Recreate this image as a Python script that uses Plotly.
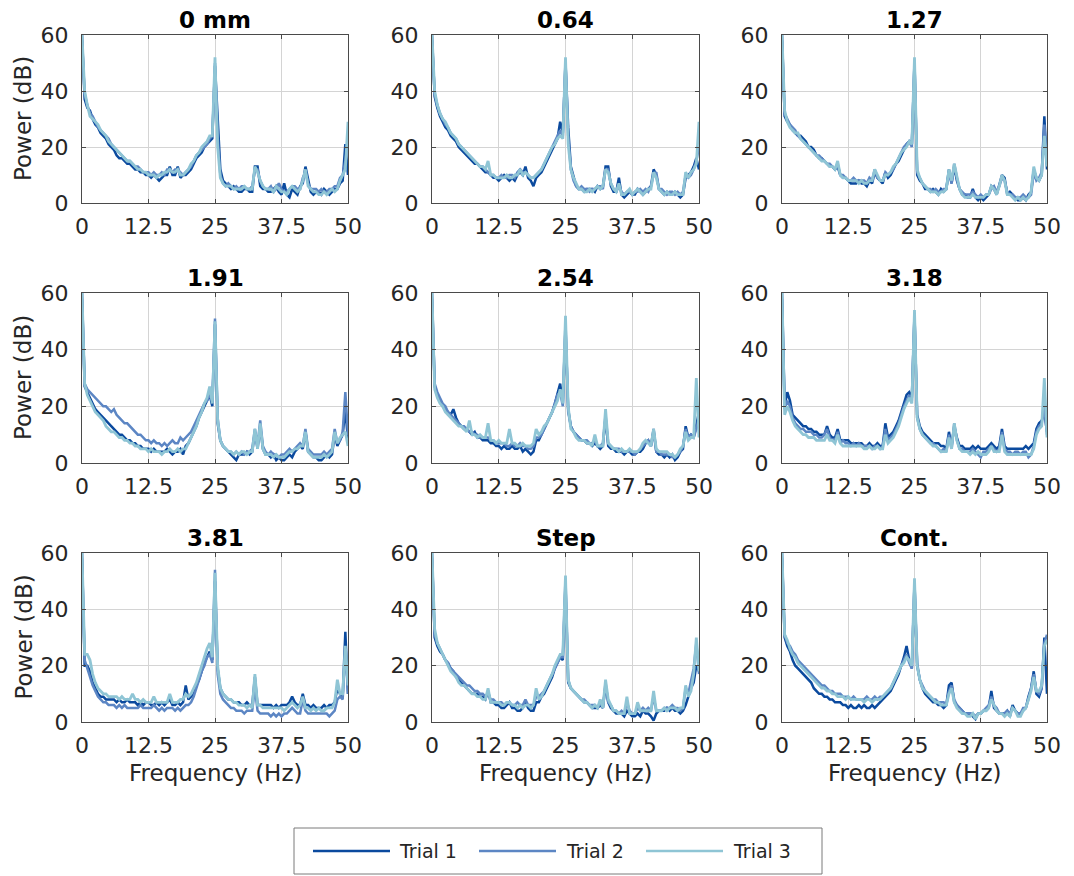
import plotly.graph_objects as go

# Frequency bins (Hz), 0.5 Hz resolution from 0 to 50 Hz
freq = [i / 2 for i in range(101)]

panel_titles = ["0 mm", "0.64", "1.27", "1.91", "2.54", "3.18", "3.81", "Step", "Cont."]
trial_names = ["Trial 1", "Trial 2", "Trial 3"]
x_tick_vals = [0, 12.5, 25, 37.5, 50]
x_tick_text = ["0", "12.5", "25", "37.5", "50"]
y_tick_vals = [0, 20, 40, 60]

# ---------------- 0 mm ----------------
p_0mm_t1 = [60, 37, 34, 33, 30, 28, 27, 25, 24, 23,
            21, 20, 19, 17, 16, 16, 15, 14, 14, 13,
            12, 12, 11, 11, 10, 10, 9, 10, 9, 8,
            9, 10, 10, 13, 10, 10, 13, 9, 10, 10,
            11, 12, 14, 16, 17, 18, 20, 21, 22, 23,
            49, 30, 12, 8, 7, 6, 5, 6, 5, 4,
            4, 5, 5, 4, 4, 13, 13, 6, 5, 5,
            4, 4, 5, 6, 4, 3, 7, 3, 2, 5,
            4, 3, 6, 7, 13, 8, 4, 3, 4, 4,
            3, 5, 4, 3, 4, 5, 5, 7, 8, 21, 10]
p_0mm_t2 = [58, 39, 35, 32, 31, 29, 27, 26, 25, 24,
            23, 21, 20, 19, 18, 17, 16, 15, 15, 14,
            13, 13, 12, 11, 11, 11, 10, 11, 10, 10,
            11, 10, 12, 12, 11, 12, 12, 11, 10, 11,
            12, 13, 15, 17, 18, 19, 20, 21, 23, 24,
            50, 24, 10, 7, 6, 7, 6, 5, 6, 5,
            6, 6, 5, 5, 6, 12, 12, 8, 6, 5,
            5, 6, 4, 5, 7, 5, 4, 4, 5, 6,
            6, 5, 5, 9, 11, 7, 5, 5, 5, 4,
            5, 4, 4, 5, 5, 6, 6, 9, 10, 15, 22]
p_0mm_t3 = [60, 40, 35, 31, 30, 29, 28, 26, 25, 24,
            22, 21, 20, 19, 18, 17, 16, 15, 15, 14,
            13, 12, 12, 11, 11, 10, 10, 10, 9, 10,
            10, 11, 11, 12, 11, 11, 12, 10, 10, 11,
            12, 14, 15, 17, 18, 20, 21, 22, 24, 24,
            52, 20, 9, 7, 6, 6, 6, 5, 5, 5,
            5, 6, 5, 5, 5, 13, 11, 8, 6, 5,
            5, 5, 4, 6, 5, 4, 4, 3, 5, 6,
            5, 4, 5, 8, 12, 6, 5, 4, 4, 3,
            3, 4, 3, 4, 5, 4, 5, 8, 10, 12, 29]

# ---------------- 0.64 ----------------
p_064_t1 = [60, 38, 34, 31, 29, 27, 26, 24, 23, 22,
            20, 19, 18, 17, 16, 15, 14, 14, 13, 12,
            11, 11, 10, 9, 9, 8, 9, 10, 9, 8,
            9, 8, 10, 11, 10, 13, 9, 8, 6, 9,
            10, 11, 13, 15, 17, 19, 21, 23, 29, 25,
            50, 27, 13, 9, 6, 5, 5, 4, 5, 5,
            5, 4, 6, 5, 6, 13, 13, 6, 4, 4,
            9, 3, 2, 3, 4, 3, 3, 5, 4, 3,
            4, 5, 6, 12, 10, 5, 4, 3, 4, 3,
            3, 4, 3, 2, 3, 9, 10, 11, 13, 16, 12]
p_064_t2 = [58, 39, 35, 32, 30, 28, 27, 25, 24, 23,
            21, 20, 19, 18, 17, 16, 15, 14, 13, 13,
            12, 11, 10, 10, 9, 9, 10, 9, 9, 10,
            10, 9, 11, 12, 11, 11, 10, 9, 9, 10,
            11, 12, 14, 16, 18, 20, 22, 24, 26, 24,
            51, 24, 12, 8, 6, 5, 6, 5, 5, 4,
            5, 5, 6, 6, 5, 12, 12, 7, 5, 4,
            6, 4, 3, 4, 4, 3, 4, 4, 5, 4,
            5, 4, 6, 10, 11, 5, 5, 4, 3, 4,
            4, 3, 4, 3, 4, 10, 9, 10, 12, 15, 20]
p_064_t3 = [60, 40, 35, 32, 30, 29, 27, 25, 24, 23,
            21, 20, 19, 18, 17, 16, 15, 14, 13, 13,
            12, 15, 10, 10, 9, 9, 9, 9, 10, 9,
            9, 10, 10, 12, 10, 11, 10, 9, 9, 10,
            11, 12, 14, 16, 18, 20, 21, 23, 24, 23,
            52, 21, 12, 9, 7, 5, 5, 4, 4, 5,
            4, 5, 6, 5, 6, 12, 11, 7, 5, 4,
            7, 3, 3, 4, 5, 3, 4, 5, 4, 3,
            4, 5, 5, 11, 9, 5, 4, 3, 4, 3,
            3, 4, 3, 3, 3, 11, 9, 11, 12, 14, 29]

# ---------------- 1.27 ----------------
p_127_t1 = [60, 31, 29, 28, 26, 25, 24, 24, 23, 22,
            20, 20, 19, 17, 16, 16, 15, 14, 13, 13,
            12, 13, 10, 9, 9, 8, 7, 7, 7, 8,
            7, 7, 6, 8, 7, 11, 9, 8, 7, 11,
            9, 10, 12, 14, 15, 17, 19, 21, 22, 21,
            50, 10, 8, 7, 5, 5, 4, 5, 4, 3,
            5, 4, 5, 12, 7, 13, 8, 5, 3, 3,
            2, 2, 5, 2, 1, 2, 1, 2, 3, 6,
            5, 3, 7, 10, 9, 3, 4, 3, 2, 1,
            1, 2, 1, 3, 4, 12, 9, 8, 10, 31, 12]
p_127_t2 = [58, 32, 30, 28, 27, 26, 24, 23, 22, 21,
            20, 19, 18, 17, 17, 16, 15, 14, 14, 13,
            12, 14, 10, 10, 9, 8, 8, 9, 8, 8,
            8, 8, 7, 9, 8, 12, 9, 8, 8, 11,
            10, 11, 12, 14, 16, 18, 20, 21, 22, 20,
            51, 11, 9, 7, 6, 5, 5, 4, 5, 4,
            4, 5, 5, 11, 7, 14, 9, 5, 4, 3,
            3, 3, 4, 3, 2, 3, 2, 3, 3, 5,
            6, 4, 6, 9, 8, 4, 3, 3, 2, 2,
            2, 3, 2, 2, 3, 11, 8, 9, 11, 28, 14]
p_127_t3 = [60, 33, 29, 27, 26, 25, 25, 23, 22, 21,
            20, 19, 18, 17, 16, 15, 15, 14, 13, 13,
            12, 15, 10, 9, 9, 8, 8, 8, 8, 7,
            8, 7, 7, 8, 8, 12, 10, 8, 8, 10,
            10, 11, 13, 14, 16, 18, 19, 20, 22, 21,
            52, 12, 9, 7, 6, 5, 4, 4, 4, 3,
            4, 4, 5, 12, 8, 14, 9, 5, 3, 2,
            2, 2, 3, 2, 2, 2, 2, 3, 3, 6,
            5, 3, 6, 10, 8, 3, 3, 2, 1, 2,
            1, 2, 1, 2, 4, 13, 9, 8, 10, 24, 13]

# ---------------- 1.91 ----------------
p_191_t1 = [60, 27, 25, 23, 21, 19, 18, 17, 16, 15,
            14, 13, 12, 11, 10, 10, 9, 8, 8, 7,
            7, 6, 6, 5, 5, 5, 4, 5, 4, 4,
            4, 4, 5, 4, 3, 4, 4, 5, 3, 6,
            7, 9, 11, 13, 16, 18, 20, 22, 24, 20,
            49, 14, 8, 6, 5, 4, 3, 2, 1, 3,
            3, 3, 4, 3, 4, 11, 5, 13, 5, 3,
            3, 2, 3, 1, 2, 1, 1, 2, 3, 2,
            4, 5, 6, 5, 11, 4, 3, 2, 2, 1,
            1, 2, 3, 2, 3, 10, 6, 8, 10, 19, 8]
p_191_t2 = [58, 28, 26, 25, 24, 23, 22, 21, 20, 20,
            19, 18, 19, 17, 16, 15, 14, 14, 13, 12,
            11, 10, 10, 9, 8, 8, 7, 8, 7, 7,
            6, 7, 6, 7, 8, 7, 7, 9, 8, 9,
            10, 11, 13, 15, 17, 19, 21, 22, 24, 22,
            51, 16, 8, 6, 5, 4, 4, 3, 4, 3,
            4, 3, 4, 4, 5, 12, 6, 15, 6, 4,
            3, 4, 3, 3, 2, 3, 3, 4, 5, 4,
            5, 6, 7, 6, 12, 5, 4, 3, 3, 3,
            3, 4, 3, 4, 5, 12, 7, 8, 11, 25, 10]
p_191_t3 = [60, 28, 24, 22, 20, 18, 17, 16, 15, 13,
            12, 11, 11, 10, 9, 9, 8, 8, 7, 7,
            6, 6, 5, 5, 5, 4, 5, 4, 4, 4,
            3, 4, 4, 5, 4, 4, 5, 4, 5, 5,
            7, 9, 11, 13, 16, 18, 21, 23, 27, 21,
            50, 15, 8, 6, 5, 4, 4, 3, 4, 3,
            4, 4, 3, 4, 4, 12, 5, 14, 5, 3,
            3, 3, 2, 3, 2, 2, 2, 3, 4, 4,
            5, 5, 6, 6, 11, 4, 3, 2, 2, 2,
            2, 3, 2, 3, 4, 11, 7, 9, 10, 11, 6]

# ---------------- 2.54 ----------------
p_254_t1 = [60, 27, 24, 22, 20, 19, 18, 17, 19, 16,
            14, 13, 12, 12, 11, 10, 11, 9, 9, 8,
            8, 8, 7, 7, 6, 6, 5, 6, 5, 5,
            6, 5, 5, 6, 4, 5, 4, 3, 4, 8,
            8, 10, 12, 14, 16, 18, 21, 25, 28, 21,
            48, 19, 13, 11, 10, 9, 8, 8, 7, 7,
            6, 7, 6, 5, 6, 16, 6, 5, 5, 4,
            4, 4, 3, 4, 4, 3, 3, 4, 4, 5,
            7, 8, 6, 12, 4, 3, 3, 2, 3, 2,
            3, 1, 2, 4, 5, 13, 9, 10, 9, 14, 18]
p_254_t2 = [58, 28, 25, 23, 21, 20, 18, 17, 16, 15,
            14, 13, 13, 12, 11, 11, 10, 10, 9, 9,
            9, 9, 8, 8, 7, 7, 7, 7, 6, 6,
            7, 6, 6, 7, 6, 6, 5, 5, 6, 9,
            9, 10, 12, 14, 16, 18, 21, 24, 25, 20,
            50, 18, 13, 11, 10, 9, 8, 8, 8, 7,
            7, 8, 6, 6, 7, 17, 7, 6, 5, 5,
            5, 4, 4, 4, 4, 4, 3, 4, 5, 6,
            7, 8, 6, 11, 4, 4, 3, 3, 3, 3,
            2, 2, 3, 4, 6, 12, 9, 10, 9, 12, 16]
p_254_t3 = [60, 26, 23, 21, 20, 18, 17, 16, 15, 14,
            13, 13, 12, 11, 15, 10, 10, 9, 10, 9,
            9, 14, 8, 8, 7, 8, 7, 7, 7, 12,
            7, 7, 6, 6, 7, 6, 6, 6, 7, 12,
            10, 11, 13, 14, 16, 18, 20, 22, 26, 21,
            52, 20, 12, 11, 9, 8, 8, 8, 7, 7,
            6, 10, 6, 6, 6, 19, 7, 6, 5, 5,
            4, 5, 4, 4, 5, 4, 4, 4, 5, 7,
            8, 7, 6, 12, 5, 4, 4, 4, 4, 3,
            3, 2, 3, 5, 6, 11, 8, 9, 9, 30, 9]

# ---------------- 3.18 ----------------
p_318_t1 = [60, 20, 25, 22, 17, 16, 15, 14, 13, 13,
            12, 12, 11, 11, 10, 10, 10, 13, 10, 9,
            9, 12, 8, 8, 8, 8, 7, 7, 7, 7,
            7, 6, 6, 7, 6, 6, 7, 6, 6, 14,
            9, 10, 11, 13, 15, 18, 21, 24, 25, 23,
            52, 17, 13, 11, 10, 9, 8, 7, 7, 7,
            6, 6, 5, 11, 6, 13, 9, 6, 6, 5,
            5, 5, 6, 5, 6, 5, 5, 5, 6, 7,
            6, 5, 6, 12, 6, 5, 5, 5, 5, 5,
            5, 5, 6, 5, 6, 7, 12, 14, 15, 18, 11]
p_318_t2 = [58, 19, 22, 20, 16, 14, 13, 12, 12, 11,
            11, 11, 10, 10, 9, 9, 10, 12, 9, 8,
            8, 11, 7, 8, 7, 7, 6, 7, 6, 7,
            6, 6, 6, 6, 5, 6, 6, 5, 6, 12,
            8, 9, 10, 12, 14, 17, 20, 22, 24, 22,
            53, 16, 12, 10, 9, 8, 7, 7, 6, 5,
            4, 5, 4, 10, 5, 14, 8, 5, 5, 4,
            4, 4, 5, 4, 3, 2, 4, 4, 5, 6,
            5, 4, 5, 11, 5, 4, 4, 3, 4, 4,
            3, 4, 4, 2, 3, 6, 11, 13, 14, 20, 10]
p_318_t3 = [60, 17, 20, 18, 15, 13, 12, 11, 10, 10,
            9, 9, 9, 8, 8, 8, 8, 10, 8, 8,
            7, 10, 7, 6, 6, 6, 6, 6, 6, 6,
            6, 5, 5, 6, 5, 5, 6, 5, 5, 10,
            7, 8, 9, 11, 13, 16, 19, 21, 23, 21,
            54, 16, 12, 10, 9, 8, 7, 6, 6, 5,
            4, 4, 4, 9, 5, 14, 8, 5, 4, 4,
            4, 3, 4, 3, 4, 3, 3, 3, 4, 6,
            4, 4, 4, 10, 4, 3, 3, 3, 3, 3,
            3, 3, 3, 3, 3, 5, 10, 12, 13, 30, 9]

# ---------------- 3.81 ----------------
p_381_t1 = [60, 20, 20, 18, 14, 12, 10, 9, 9, 8,
            8, 8, 8, 7, 8, 7, 7, 8, 7, 7,
            7, 6, 7, 6, 7, 7, 6, 6, 7, 6,
            7, 6, 7, 8, 6, 6, 7, 6, 7, 13,
            8, 9, 10, 13, 15, 18, 21, 23, 25, 22,
            50, 19, 12, 10, 9, 8, 8, 7, 7, 7,
            6, 6, 7, 6, 6, 16, 6, 6, 6, 6,
            6, 6, 5, 6, 5, 6, 6, 6, 7, 9,
            7, 6, 6, 10, 6, 6, 5, 6, 5, 5,
            5, 6, 5, 6, 6, 7, 12, 10, 9, 32, 10]
p_381_t2 = [58, 22, 19, 16, 13, 11, 9, 8, 7, 7,
            6, 6, 6, 5, 6, 5, 6, 5, 5, 5,
            5, 5, 6, 5, 5, 5, 5, 6, 5, 4,
            5, 4, 5, 5, 5, 4, 5, 4, 5, 6,
            6, 7, 9, 12, 15, 18, 20, 23, 24, 21,
            54, 17, 10, 8, 7, 6, 5, 5, 4, 4,
            4, 3, 4, 4, 4, 12, 4, 3, 3, 3,
            3, 2, 3, 2, 3, 2, 3, 3, 4, 5,
            4, 3, 3, 8, 4, 3, 3, 3, 3, 3,
            3, 3, 3, 2, 3, 4, 8, 9, 8, 26, 10]
p_381_t3 = [60, 24, 24, 22, 17, 14, 12, 11, 10, 10,
            9, 9, 9, 9, 8, 9, 8, 8, 8, 10,
            8, 8, 7, 8, 7, 7, 7, 9, 7, 7,
            7, 7, 7, 10, 7, 7, 7, 8, 8, 10,
            9, 10, 12, 14, 17, 20, 23, 26, 28, 23,
            53, 20, 12, 10, 9, 8, 8, 7, 7, 6,
            6, 6, 5, 6, 5, 17, 6, 6, 5, 5,
            5, 5, 5, 5, 5, 5, 4, 5, 6, 7,
            6, 5, 6, 9, 5, 5, 4, 5, 4, 5,
            4, 4, 5, 5, 5, 7, 15, 10, 10, 27, 13]

# ---------------- Step ----------------
p_step_t1 = [60, 30, 27, 25, 24, 22, 21, 19, 18, 16,
             15, 14, 13, 12, 11, 10, 10, 10, 9, 9,
             8, 11, 7, 7, 6, 6, 5, 5, 6, 7,
             5, 5, 4, 4, 5, 7, 5, 4, 4, 7,
             7, 9, 10, 12, 14, 16, 19, 21, 23, 22,
             49, 14, 12, 11, 10, 9, 8, 7, 7, 6,
             5, 5, 5, 6, 5, 13, 7, 5, 4, 3,
             3, 3, 2, 4, 3, 2, 2, 3, 2, 4,
             3, 3, 2, 0.5, 3, 4, 4, 4, 5, 4,
             5, 4, 4, 3, 4, 6, 9, 12, 14, 20, 18]
p_step_t2 = [58, 31, 28, 26, 24, 22, 21, 19, 18, 17,
             16, 15, 14, 13, 13, 12, 11, 11, 10, 10,
             9, 10, 8, 8, 7, 7, 7, 6, 7, 7,
             6, 6, 7, 6, 6, 8, 6, 6, 6, 9,
             9, 10, 11, 13, 15, 17, 19, 21, 23, 23,
             51, 15, 12, 11, 10, 9, 8, 8, 7, 6,
             6, 6, 5, 7, 5, 14, 7, 6, 4, 4,
             3, 4, 3, 7, 4, 3, 3, 5, 4, 5,
             4, 5, 4, 9, 4, 4, 4, 5, 5, 5,
             6, 5, 5, 4, 5, 12, 10, 15, 19, 28, 17]
p_step_t3 = [60, 33, 28, 26, 24, 22, 20, 18, 17, 16,
             14, 13, 13, 12, 11, 10, 10, 9, 9, 8,
             8, 12, 7, 7, 7, 7, 6, 6, 7, 7,
             6, 6, 5, 6, 5, 6, 6, 5, 6, 12,
             8, 9, 11, 13, 15, 17, 20, 22, 24, 24,
             52, 15, 12, 11, 10, 9, 8, 7, 7, 6,
             5, 6, 5, 8, 5, 15, 8, 6, 4, 4,
             3, 3, 3, 9, 3, 3, 3, 7, 4, 4,
             4, 4, 4, 11, 4, 4, 4, 5, 4, 5,
             5, 5, 4, 5, 5, 13, 9, 11, 17, 30, 18]

# ---------------- Cont. ----------------
p_cont_t1 = [60, 30, 27, 25, 22, 20, 19, 18, 17, 16,
             15, 14, 12, 11, 10, 10, 9, 9, 8, 8,
             7, 7, 7, 6, 6, 5, 6, 5, 5, 6,
             5, 6, 5, 5, 6, 5, 6, 7, 8, 9,
             10, 11, 13, 15, 17, 20, 23, 27, 22, 19,
             49, 20, 15, 12, 10, 9, 8, 7, 7, 6,
             6, 5, 6, 13, 14, 7, 6, 5, 4, 3,
             3, 3, 2, 1, 3, 3, 4, 4, 5, 11,
             5, 4, 3, 3, 3, 4, 2, 6, 4, 3,
             3, 4, 5, 9, 12, 18, 10, 9, 12, 30, 10]
p_cont_t2 = [58, 31, 28, 27, 25, 24, 22, 21, 20, 19,
             18, 17, 16, 15, 14, 13, 13, 12, 11, 11,
             10, 10, 10, 9, 9, 9, 8, 9, 8, 8,
             8, 8, 9, 8, 8, 9, 8, 9, 9, 10,
             11, 12, 14, 16, 18, 20, 22, 24, 21, 19,
             50, 21, 15, 13, 11, 10, 9, 8, 8, 7,
             7, 7, 6, 11, 13, 8, 6, 5, 4, 3,
             3, 3, 3, 2, 3, 3, 4, 5, 6, 9,
             6, 5, 3, 3, 3, 4, 3, 5, 4, 3,
             3, 5, 5, 8, 12, 17, 11, 10, 12, 28, 31]
p_cont_t3 = [60, 31, 29, 26, 24, 23, 21, 20, 19, 18,
             17, 16, 15, 14, 13, 12, 12, 11, 11, 10,
             10, 9, 9, 9, 8, 9, 8, 8, 8, 8,
             8, 7, 8, 8, 7, 8, 8, 8, 9, 10,
             11, 12, 14, 16, 18, 20, 21, 23, 22, 20,
             51, 20, 15, 12, 11, 10, 9, 8, 7, 7,
             6, 6, 6, 10, 12, 7, 5, 4, 3, 3,
             2, 2, 3, 1, 3, 3, 4, 4, 5, 8,
             6, 4, 3, 3, 2, 3, 2, 5, 4, 2,
             2, 4, 5, 8, 11, 16, 11, 11, 13, 27, 29]

panels = [
    [p_0mm_t1, p_0mm_t2, p_0mm_t3],
    [p_064_t1, p_064_t2, p_064_t3],
    [p_127_t1, p_127_t2, p_127_t3],
    [p_191_t1, p_191_t2, p_191_t3],
    [p_254_t1, p_254_t2, p_254_t3],
    [p_318_t1, p_318_t2, p_318_t3],
    [p_381_t1, p_381_t2, p_381_t3],
    [p_step_t1, p_step_t2, p_step_t3],
    [p_cont_t1, p_cont_t2, p_cont_t3],
]
for pi, trials in enumerate(panels):
    for ti, vals in enumerate(trials):
        if len(vals) != len(freq):
            raise ValueError(f"panel {pi} trial {ti} has {len(vals)} values")

# ---------------- styling ----------------
W, H = 1074, 876
FONT = "DejaVu Sans"
trial_colors = ["#0b4a9e", "#5c86c4", "#8fc5d5"]
trial_widths = [2.5, 2.5, 2.8]
grid_color = "#d4d4d4"
axis_color = "#4a4a4a"
text_color = "#262626"

col_px = [(82, 348), (432, 699), (782, 1047)]
row_px = [(35, 203), (293, 463), (553, 722)]

fig = go.Figure()
layout_axes = {}
annotations = []
shapes = []

for k, trials in enumerate(panels):
    r, c = divmod(k, 3)
    n = k + 1
    xa = "x" if n == 1 else f"x{n}"
    ya = "y" if n == 1 else f"y{n}"
    for ti, vals in enumerate(trials):
        fig.add_trace(go.Scatter(
            x=freq, y=vals, mode="lines", name=trial_names[ti],
            line=dict(color=trial_colors[ti], width=trial_widths[ti]),
            xaxis=xa, yaxis=ya, showlegend=False,
        ))
    x0, x1 = col_px[c]
    y0, y1 = row_px[r]
    common = dict(
        showgrid=True, gridcolor=grid_color, gridwidth=1,
        showline=True, linecolor=axis_color, linewidth=1, mirror="ticks",
        ticks="inside", ticklen=4, tickcolor=axis_color,
        tickfont=dict(family=FONT, size=22, color=text_color),
        zeroline=False, fixedrange=True, automargin=False,
    )
    layout_axes["xaxis" if n == 1 else f"xaxis{n}"] = dict(
        domain=[x0 / W, x1 / W], range=[0, 50],
        tickmode="array", tickvals=x_tick_vals, ticktext=x_tick_text,
        anchor=ya, ticklabelstandoff=4, **common)
    layout_axes["yaxis" if n == 1 else f"yaxis{n}"] = dict(
        domain=[1 - y1 / H, 1 - y0 / H], range=[0, 60],
        tickmode="array", tickvals=y_tick_vals,
        anchor=xa, ticklabelstandoff=8, **common)
    # panel title
    annotations.append(dict(
        text=f"<b>{panel_titles[k]}</b>", x=(x0 + x1) / 2 / W, y=1 - (y0 - 15) / H,
        xref="paper", yref="paper", xanchor="center", yanchor="middle",
        showarrow=False, font=dict(family=FONT, size=23, color="#000000")))
    if c == 0:
        annotations.append(dict(
            text="Power (dB)", x=23 / W, y=1 - (y0 + y1) / 2 / H,
            xref="paper", yref="paper", xanchor="center", yanchor="middle",
            textangle=-90, showarrow=False,
            font=dict(family=FONT, size=23, color=text_color)))
    if r == 2:
        annotations.append(dict(
            text="Frequency (Hz)", x=(x0 + x1) / 2 / W, y=1 - 773 / H,
            xref="paper", yref="paper", xanchor="center", yanchor="middle",
            showarrow=False, font=dict(family=FONT, size=23, color=text_color)))

# custom legend box (long line samples as in the original)
shapes.append(dict(type="rect", xref="paper", yref="paper",
                   x0=294 / W, x1=822 / W, y0=1 - 874 / H, y1=1 - 828 / H,
                   line=dict(color="#7a7a7a", width=1), fillcolor="white"))
leg_y = 851
leg_items = [(313, 390, 397), (479, 556, 564), (646, 723, 731)]
for ti, (lx0, lx1, tx) in enumerate(leg_items):
    shapes.append(dict(type="line", xref="paper", yref="paper",
                       x0=lx0 / W, x1=lx1 / W, y0=1 - leg_y / H, y1=1 - leg_y / H,
                       line=dict(color=trial_colors[ti], width=2.5)))
    annotations.append(dict(
        text=trial_names[ti], x=tx / W, y=1 - leg_y / H,
        xref="paper", yref="paper", xanchor="left", yanchor="middle",
        showarrow=False, font=dict(family=FONT, size=19, color=text_color)))

fig.update_layout(
    width=W, height=H, margin=dict(l=0, r=0, t=0, b=0, autoexpand=False),
    paper_bgcolor="white", plot_bgcolor="white",
    showlegend=False, annotations=annotations, shapes=shapes,
    font=dict(family=FONT, color=text_color),
    **layout_axes,
)

fig.write_html("out.html")
